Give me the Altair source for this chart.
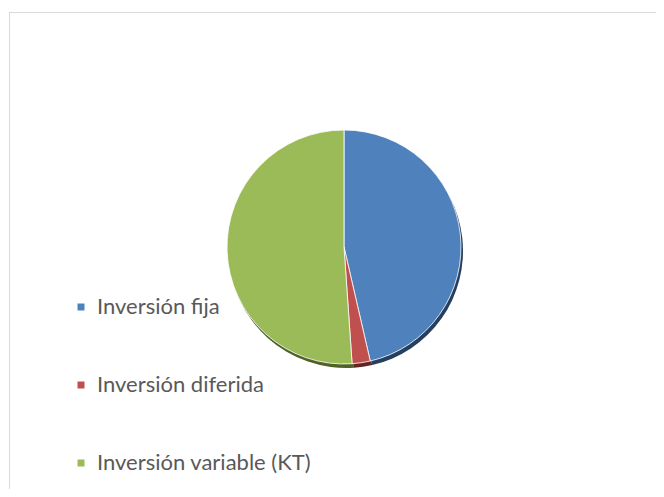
import altair as alt
import pandas as pd

categories = ["Inversión fija", "Inversión diferida", "Inversión variable (KT)"]
values = [46.4, 2.5, 51.1]
colors = ["#4F81BD", "#C0504D", "#9BBB59"]
shadow_colors = ["#243F60", "#632523", "#4F6228"]

df = pd.DataFrame({"categoria": categories, "valor": values, "orden": [0, 1, 2]})

W, H = 648, 481
CX, CY, R = 336, 239, 117

shadow = alt.Chart(df).mark_arc(radius=R).encode(
    theta=alt.Theta("valor:Q", stack=True),
    order=alt.Order("orden:Q"),
    color=alt.Color("categoria:N", scale=alt.Scale(domain=categories, range=shadow_colors), legend=None),
    x=alt.value(CX + 2),
    y=alt.value(CY + 4),
)

pie = alt.Chart(df).mark_arc(radius=R, stroke="#ffffff", strokeWidth=1, strokeOpacity=0.8).encode(
    theta=alt.Theta("valor:Q", stack=True),
    order=alt.Order("orden:Q"),
    color=alt.Color(
        "categoria:N",
        scale=alt.Scale(domain=categories, range=colors),
        legend=alt.Legend(
            orient="none", legendX=62, legendY=288, title=None,
            symbolType="square", symbolSize=49, symbolStrokeWidth=0,
            labelFontSize=22, labelFont="Lato", labelColor="#595959", labelLimit=500,
            rowPadding=56, labelOffset=5, padding=0,
        ),
    ),
    x=alt.value(CX),
    y=alt.value(CY),
)

border_left = alt.Chart(df).mark_rule(color="#d9d9d9", strokeWidth=1).encode(
    x=alt.value(1.5), y=alt.value(4.5), y2=alt.value(H + 10)
)
border_top = alt.Chart(df).mark_rule(color="#d9d9d9", strokeWidth=1).encode(
    x=alt.value(1.5), x2=alt.value(W + 10), y=alt.value(4.5)
)

chart = alt.layer(border_left, border_top, shadow, pie).resolve_scale(color="independent").properties(
    width=W, height=H, autosize=alt.AutoSizeParams(type="none"), padding=0
).configure_view(stroke=None)

chart.save("out.html", embed_options={"renderer": "svg", "actions": False})
